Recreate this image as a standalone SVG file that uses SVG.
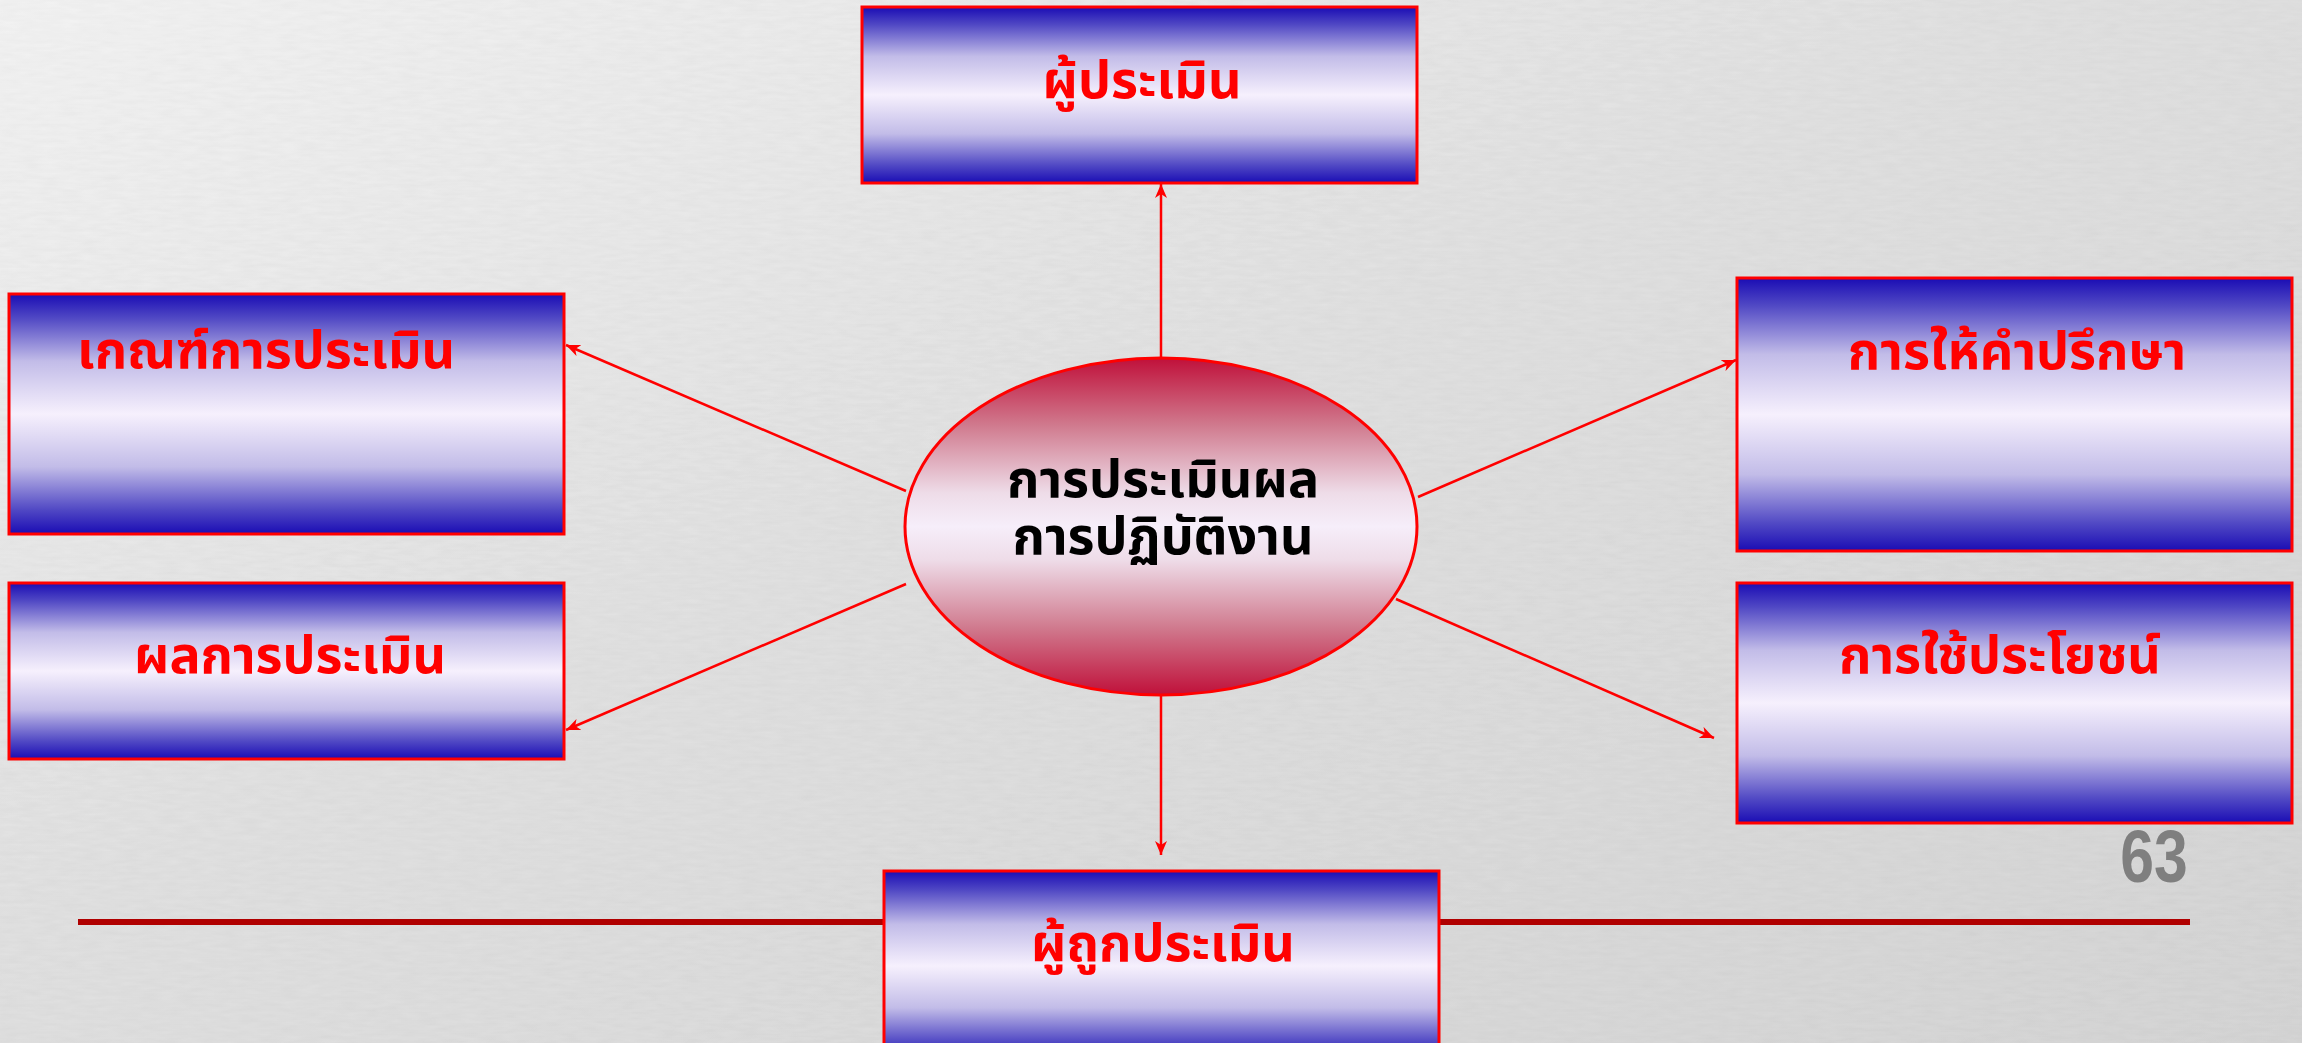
<svg xmlns="http://www.w3.org/2000/svg" width="2302" height="1043" viewBox="0 0 2302 1043">
<style>
.box{stroke:#FF0000;stroke-width:3;fill:url(#boxGrad)}
.lbl{font-family:"Noto Sans Thai","Tahoma","Loma","Garuda","Noto Sans","DejaVu Sans",sans-serif;font-weight:bold;font-size:52px;fill:#FF0000}
.ctr{font-family:"Noto Sans Thai","Tahoma","Loma","Garuda","Noto Sans","DejaVu Sans",sans-serif;font-weight:bold;font-size:52px;fill:#000000}
.conn{stroke:#FF0000;stroke-width:2.5;fill:none;marker-end:url(#arrow)}
</style>
<defs>
<linearGradient id="bg" x1="0" y1="0" x2="1" y2="1">
<stop offset="0" stop-color="#F4F4F4"/>
<stop offset="0.45" stop-color="#E2E2E2"/>
<stop offset="1" stop-color="#D6D6D6"/>
</linearGradient>
<linearGradient id="boxGrad" x1="0" y1="0" x2="0" y2="1">
<stop offset="0" stop-color="#1A0CB4"/>
<stop offset="0.1" stop-color="#5048C4"/>
<stop offset="0.28" stop-color="#C2BCE8"/>
<stop offset="0.5" stop-color="#F6F0FD"/>
<stop offset="0.72" stop-color="#C2BCE8"/>
<stop offset="0.9" stop-color="#5048C4"/>
<stop offset="1" stop-color="#1A0CB4"/>
</linearGradient>
<linearGradient id="ellGrad" x1="0" y1="0" x2="0" y2="1">
<stop offset="0" stop-color="#C0103A"/>
<stop offset="0.2" stop-color="#D07A8E"/>
<stop offset="0.4" stop-color="#EEDCE8"/>
<stop offset="0.5" stop-color="#F6EEFA"/>
<stop offset="0.6" stop-color="#EEDCE8"/>
<stop offset="0.8" stop-color="#D07A8E"/>
<stop offset="1" stop-color="#C0103A"/>
</linearGradient>
<filter id="tex" x="0" y="0" width="100%" height="100%">
<feTurbulence type="fractalNoise" baseFrequency="0.05 0.25" numOctaves="2" seed="3" result="n"/>
<feColorMatrix in="n" type="matrix" values="0 0 0 0 0  0 0 0 0 0  0 0 0 0 0  0 0 0 0.08 0" result="d"/>
<feComposite in="d" in2="SourceGraphic" operator="over"/>
</filter>
<marker id="arrow" viewBox="0 0 14 12" refX="14" refY="6" markerWidth="14" markerHeight="12" markerUnits="userSpaceOnUse" orient="auto">
<path d="M0,0 L14,6 L0,12 L4,6 z" fill="#FF0000"/>
</marker>
</defs>
<rect x="0" y="0" width="2302" height="1043" fill="url(#bg)" filter="url(#tex)"/>
<line x1="78" y1="922" x2="2190" y2="922" stroke="#B00000" stroke-width="6"/>
<text transform="translate(2154,882) scale(0.82,1)" x="0" y="0" text-anchor="middle" font-family="Liberation Sans Narrow, Liberation Sans, sans-serif" font-weight="bold" font-size="74" fill="#7F7F7F">63</text>
<g id="connectors">
<line class="conn" x1="1161" y1="358" x2="1161" y2="184"/>
<line class="conn" x1="1161" y1="695" x2="1161" y2="855"/>
<line class="conn" x1="906" y1="491" x2="566" y2="345"/>
<line class="conn" x1="906" y1="584" x2="566" y2="730"/>
<line class="conn" x1="1418" y1="497" x2="1736" y2="360"/>
<line class="conn" x1="1396" y1="599" x2="1714" y2="738"/>
</g>
<g id="node-top">
<rect class="box" x="862" y="7" width="555" height="176"/>
<text class="lbl" x="1142" y="98" text-anchor="middle">ผู้ประเมิน</text>
</g>
<g id="node-left1">
<rect class="box" x="9" y="294" width="555" height="240"/>
<text class="lbl" x="77" y="368">เกณฑ์การประเมิน</text>
</g>
<g id="node-left2">
<rect class="box" x="9" y="583" width="555" height="176"/>
<text class="lbl" x="290" y="673" text-anchor="middle">ผลการประเมิน</text>
</g>
<g id="node-right1">
<rect class="box" x="1737" y="278" width="555" height="273"/>
<text class="lbl" x="2017" y="369" text-anchor="middle">การให้คำปรึกษา</text>
</g>
<g id="node-right2">
<rect class="box" x="1737" y="583" width="555" height="240"/>
<text class="lbl" x="2000" y="673" text-anchor="middle">การใช้ประโยชน์</text>
</g>
<g id="node-bottom">
<rect class="box" x="884" y="871" width="555" height="190"/>
<text class="lbl" x="1163" y="961" text-anchor="middle">ผู้ถูกประเมิน</text>
</g>
<g id="node-center">
<ellipse cx="1161" cy="526.5" rx="256" ry="168.5" fill="url(#ellGrad)" stroke="#FF0000" stroke-width="3"/>
<text class="ctr" x="1163" y="497" text-anchor="middle">การประเมินผล</text>
<text class="ctr" x="1163" y="554" text-anchor="middle">การปฏิบัติงาน</text>
</g>
</svg>
